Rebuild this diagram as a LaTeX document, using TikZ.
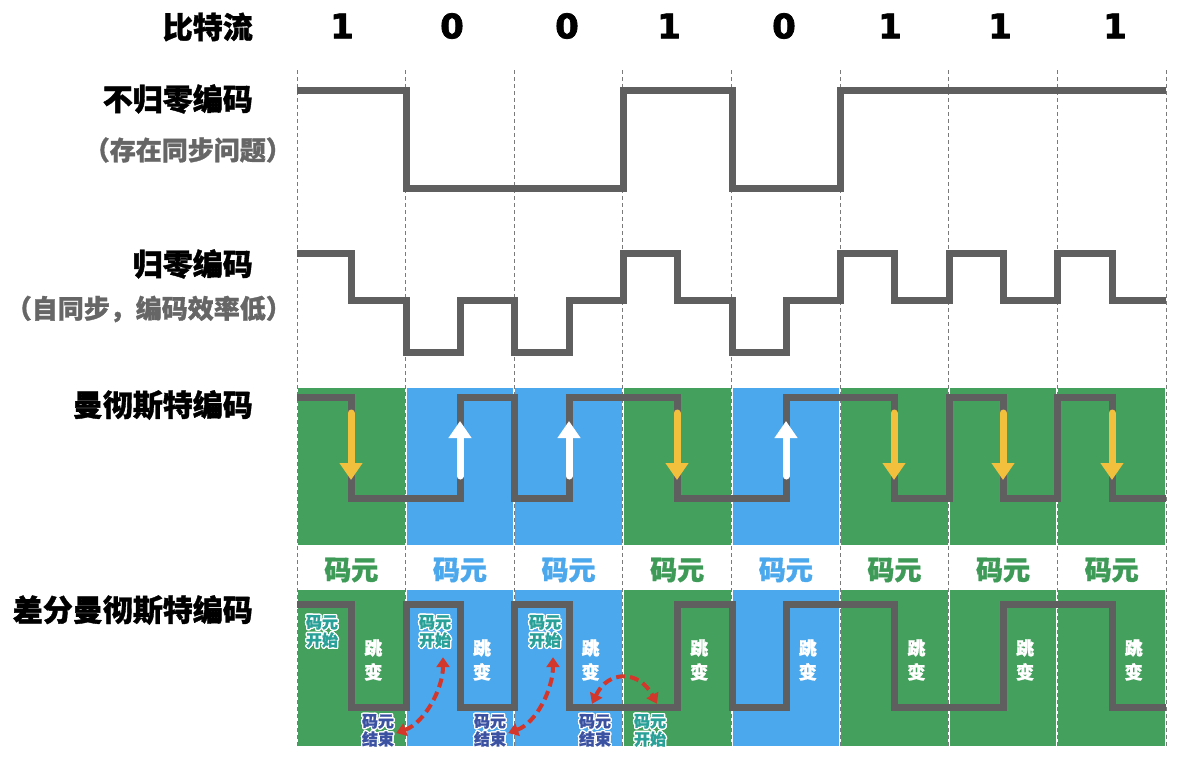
\documentclass[tikz,border=0pt]{standalone}
\usepackage{fontspec}
\setmainfont{Noto Sans CJK SC}[BoldFeatures={FakeBold=1.2}]
\newfontfamily\digitfont{DejaVu Sans}[FakeBold=2]
\usepackage{contour}
\contourlength{1.3pt}
\usetikzlibrary{arrows.meta,calc}
\definecolor{wavegray}{HTML}{5F5F5F}
\definecolor{gridgray}{HTML}{7A7A7A}
\definecolor{subgray}{HTML}{666666}
\definecolor{cellgreen}{HTML}{44A05D}
\definecolor{cellblue}{HTML}{4BA8EC}
\definecolor{txtgreen}{HTML}{3E9A57}
\definecolor{txtblue}{HTML}{4BA8EC}
\definecolor{arrowyellow}{HTML}{F2C03C}
\definecolor{arrowred}{HTML}{D3362B}
\definecolor{startcol}{HTML}{2AA198}
\definecolor{endcol}{HTML}{3B52A3}
\begin{document}
\begin{tikzpicture}[x=1pt,y=-1pt,
  wave/.style={draw=wavegray,line width=7pt,line join=miter},
  gridline/.style={draw=gridgray,line width=1pt,dash pattern=on 4pt off 3pt},
  rowlabel/.style={anchor=east,inner sep=0pt,font=\fontsize{30}{32}\selectfont\bfseries,text=black},
  sublabel/.style={anchor=east,inner sep=0pt,font=\fontsize{26}{30}\selectfont\bfseries,text=subgray},
  bitlabel/.style={inner sep=0pt,font=\fontsize{34}{40}\selectfont\digitfont\bfseries},
  ymlabel/.style={inner sep=0pt,font=\fontsize{27}{30}\selectfont\bfseries},
  jumplab/.style={inner sep=0pt,align=center,text=white,font=\fontsize{18}{24}\selectfont\bfseries},
  startlab/.style={inner sep=0pt,align=center,text=startcol,font=\fontsize{16}{18}\selectfont\bfseries},
  endlab/.style={inner sep=0pt,align=center,text=endcol,font=\fontsize{16}{18}\selectfont\bfseries},
  yarrow/.style={draw=arrowyellow,line width=7pt,line cap=round,-{Triangle[width=22pt,length=17pt]}},
  warrow/.style={draw=white,line width=7pt,line cap=round,-{Triangle[width=22pt,length=17pt]}},
  redarr/.style={draw=arrowred,line width=4pt,dash pattern=on 9pt off 5pt,{Triangle[width=13pt,length=10pt]}-{Triangle[width=13pt,length=10pt]}}
]
\useasboundingbox (0,0) rectangle (1188,758);
\fill[white] (0,0) rectangle (1188,758);
\def\cw{108.625}
% cells
\foreach \b [count=\i from 0] in {1,0,0,1,0,1,1,1}{
  \pgfmathsetmacro\xl{297+\cw*\i}
  \pgfmathsetmacro\xr{\xl+\cw}
  \pgfmathsetmacro\xc{\xl+\cw/2}
  \ifnum\b=1 \def\cc{cellgreen}\def\tc{txtgreen}\else\def\cc{cellblue}\def\tc{txtblue}\fi
  \fill[\cc] (\xl+1,388) rectangle (\xr-1,545);
  \fill[\cc] (\xl+1,590) rectangle (\xr-1,746);
  \node[ymlabel,text=\tc] (sym\i) at (\xc,570) {码元};
}
% grid
\foreach \i in {0,...,8} \draw[gridline] (297+\cw*\i,70) -- (297+\cw*\i,748);
% bits
\foreach \b/\x [count=\i from 0] in {1/342,0/452,0/567,1/669,0/784,1/890,1/1000,1/1115}
  \node[bitlabel] (bit\i) at (\x,26) {\b};
% labels
\node[rowlabel] (lbits) at (253,27) {比特流};
\node[rowlabel] (lnrz) at (253,99) {不归零编码};
\node[sublabel] (lnrzsub) at (292,150) {（存在同步问题）};
\node[rowlabel] (lrz) at (253,264) {归零编码};
\node[sublabel] (lrzsub) at (292,309) {（自同步，编码效率低）};
\node[rowlabel] (lman) at (253,405) {曼彻斯特编码};
\node[rowlabel] (ldman) at (253,610) {差分曼彻斯特编码};
% NRZ
\draw[wave] (297,90)--(406,90)--(406,188)--(623,188)--(623,90)--(732,90)--(732,188)--(840,188)--(840,90)--(1166,90);
% RZ
\draw[wave] (297,253)--(351,253)--(351,300)--(406,300)--(406,352)--(460,352)--(460,300)--(514,300)--(514,352)--(569,352)--(569,300)--(623,300)--(623,253)--(677,253)--(677,300)--(732,300)--(732,352)--(786,352)--(786,300)--(840,300)--(840,253)--(894,253)--(894,300)--(949,300)--(949,253)--(1003,253)--(1003,300)--(1057,300)--(1057,253)--(1112,253)--(1112,300)--(1166,300);
% Manchester
\draw[wave] (297,397)--(351,397)--(351,498)--(460,498)--(460,397)--(514,397)--(514,498)--(569,498)--(569,397)--(677,397)--(677,498)--(786,498)--(786,397)--(894,397)--(894,498)--(949,498)--(949,397)--(1003,397)--(1003,498)--(1057,498)--(1057,397)--(1112,397)--(1112,498)--(1166,498);
\foreach \x in {351,677,894,1003,1112} \draw[yarrow] (\x,413) -- (\x,480);
\foreach \x in {460,569,786} \draw[warrow] (\x,476) -- (\x,421);
% Differential Manchester
\draw[wave] (297,604)--(351,604)--(351,707)--(406,707)--(406,604)--(460,604)--(460,707)--(514,707)--(514,604)--(569,604)--(569,707)--(677,707)--(677,604)--(732,604)--(732,707)--(786,707)--(786,604)--(894,604)--(894,707)--(1003,707)--(1003,604)--(1112,604)--(1112,707)--(1166,707);
\foreach \i in {0,...,7} \node[jumplab] (jmp\i) at (297+\cw*\i+\cw/2+22,660) {跳\\变};
\node[startlab] (s0) at (322,632) {\contour{white}{码元}\\\contour{white}{开始}};
\node[startlab] (s1) at (435,632) {\contour{white}{码元}\\\contour{white}{开始}};
\node[startlab] (s2) at (545,632) {\contour{white}{码元}\\\contour{white}{开始}};
\node[startlab] (s3) at (650,731) {\contour{white}{码元}\\\contour{white}{开始}};
\node[endlab] (e0) at (378,731) {\contour{white}{码元}\\\contour{white}{结束}};
\node[endlab] (e1) at (490,731) {\contour{white}{码元}\\\contour{white}{结束}};
\node[endlab] (e2) at (595,731) {\contour{white}{码元}\\\contour{white}{结束}};
% red arrows
\draw[redarr] ($(e0.east)+(2,2)$) .. controls +(28,-10) and +(0,32) .. ($(s1.south)+(8,8)$);
\draw[redarr] ($(e1.east)+(2,2)$) .. controls +(28,-10) and +(0,32) .. ($(s2.south)+(8,8)$);
\draw[redarr] ($(e2.north)+(-3,-10)$) .. controls +(16,-34) and +(-18,-34) .. ($(s3.north)+(7,-10)$);
\end{tikzpicture}
\end{document}
